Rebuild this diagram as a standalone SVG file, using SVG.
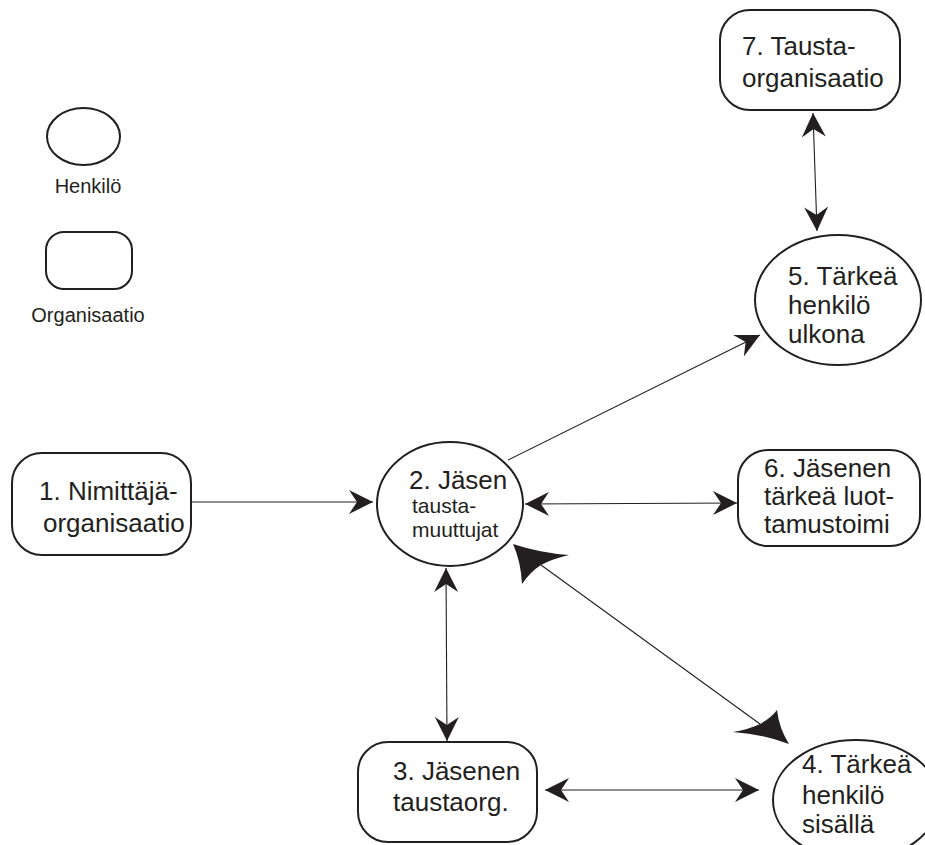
<svg xmlns="http://www.w3.org/2000/svg" width="925" height="845" viewBox="0 0 925 845">
<style>
.n{fill:#fff;stroke:#231f20;stroke-width:2}
.t{font-family:"Liberation Sans",Arial,sans-serif;font-size:26px;fill:#231f20}
.s{font-size:21px}
.l{font-family:"Liberation Sans",Arial,sans-serif;font-size:20px;fill:#231f20;text-anchor:middle}
.c{stroke:#231f20;stroke-width:1.1;fill:none}
.h{fill:#231f20;stroke:none}
</style>
<defs>
<marker id="a" viewBox="-25 -13 27 26" refX="0" refY="0" markerWidth="27" markerHeight="26" markerUnits="userSpaceOnUse" orient="auto-start-reverse">
<path d="M0,0 L-24,-12 L-16,0 L-24,12 Z" fill="#231f20"/>
</marker>
</defs>
<rect width="925" height="845" fill="#fff"/>
<g id="legend">
<ellipse class="n" cx="83.5" cy="136.5" rx="36.5" ry="28.5"/>
<text class="l" x="88" y="193">Henkilö</text>
<rect class="n" x="46" y="232" width="86" height="57" rx="18"/>
<text class="l" x="88" y="322">Organisaatio</text>
</g>
<g id="connectors">
<line class="c" x1="191" y1="502" x2="373" y2="502" marker-end="url(#a)"/>
<line class="c" x1="508" y1="460" x2="760" y2="335" marker-end="url(#a)"/>
<line class="c" x1="813" y1="113" x2="817" y2="231" marker-start="url(#a)" marker-end="url(#a)"/>
<line class="c" x1="525" y1="504" x2="737" y2="503" marker-start="url(#a)" marker-end="url(#a)"/>
<line class="c" x1="446" y1="568" x2="447" y2="741" marker-start="url(#a)" marker-end="url(#a)"/>
<line class="c" x1="545" y1="790" x2="759" y2="790" marker-start="url(#a)" marker-end="url(#a)"/>
<line class="c" x1="541" y1="565" x2="760" y2="724"/>
<path class="h" d="M513,544 Q540,553 569,555 Q552,559 541,565 Q530,572 522,584 Q521,562 513,544 Z"/>
<path class="h" d="M789,744 Q762,734 733,732 Q750,729 760,724 Q771,718 777,710 Q779,728 789,744 Z"/>
</g>
<g id="n1">
<rect class="n" x="12" y="453" width="179" height="102" rx="30"/>
<text class="t" x="39" y="500">1. Nimittäjä-</text>
<text class="t" x="43" y="532">organisaatio</text>
</g>
<g id="n2">
<ellipse class="n" cx="450" cy="504" rx="73" ry="62"/>
<text class="t" x="409" y="489">2. Jäsen</text>
<text class="t s" x="412" y="513">tausta-</text>
<text class="t s" x="412" y="537">muuttujat</text>
</g>
<g id="n3">
<rect class="n" x="358" y="742" width="179" height="100" rx="30"/>
<text class="t" x="393" y="780">3. Jäsenen</text>
<text class="t" x="393" y="811">taustaorg.</text>
</g>
<g id="n4">
<ellipse class="n" cx="856" cy="800" rx="83" ry="60"/>
<text class="t" x="802" y="773">4. Tärkeä</text>
<text class="t" x="802" y="804">henkilö</text>
<text class="t" x="802" y="833">sisällä</text>
</g>
<g id="n5">
<ellipse class="n" cx="838" cy="300" rx="83" ry="65"/>
<text class="t" x="788" y="285">5. Tärkeä</text>
<text class="t" x="788" y="314">henkilö</text>
<text class="t" x="788" y="343">ulkona</text>
</g>
<g id="n6">
<rect class="n" x="738" y="450" width="182" height="96" rx="30"/>
<text class="t" x="764" y="477">6. Jäsenen</text>
<text class="t" x="764" y="505">tärkeä luot-</text>
<text class="t" x="764" y="533">tamustoimi</text>
</g>
<g id="n7">
<rect class="n" x="720" y="10" width="180" height="100" rx="30"/>
<text class="t" x="742" y="55">7. Tausta-</text>
<text class="t" x="742" y="87">organisaatio</text>
</g>
</svg>
